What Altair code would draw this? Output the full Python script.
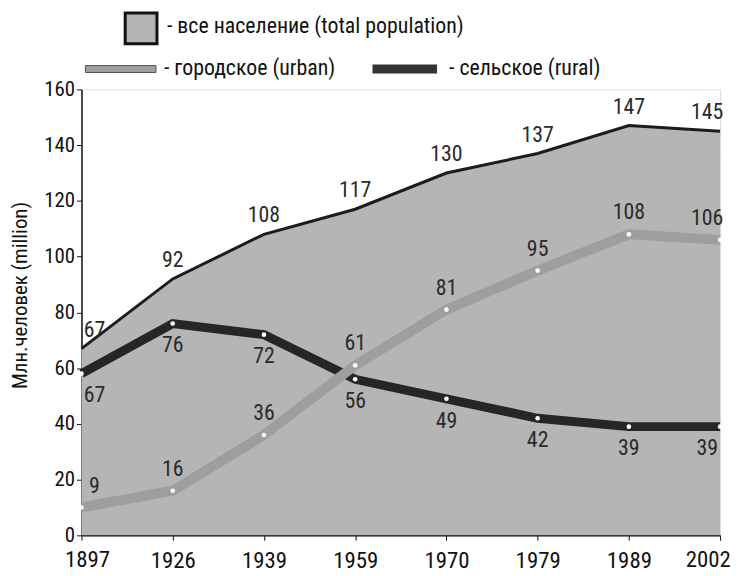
import altair as alt
import pandas as pd

years = ["1897", "1926", "1939", "1959", "1970", "1979", "1989", "2002"]
total = [67, 92, 108, 117, 130, 137, 147, 145]
urban = [10, 16, 36, 61, 81, 95, 108, 106]
urban_labels = ["9", "16", "36", "61", "81", "95", "108", "106"]
rural = [58, 76, 72, 56, 49, 42, 39, 39]
rural_labels = ["67", "76", "72", "56", "49", "42", "39", "39"]
total_labels = [str(v) for v in total]

FONT = "Roboto Condensed"

rows = []
for i, y in enumerate(years):
    pos = "first" if i == 0 else ("last" if i == len(years) - 1 else "mid")
    rows.append(dict(year=y, series="total", value=total[i], label=total_labels[i], pos=pos))
    rows.append(dict(year=y, series="urban", value=urban[i], label=urban_labels[i], pos=pos))
    rows.append(dict(year=y, series="rural", value=rural[i], label=rural_labels[i], pos=pos))
df = pd.DataFrame(rows)

first_year, last_year = years[0], years[-1]

xenc = alt.X("year:O", sort=years, scale=alt.Scale(type="point", padding=0),
             axis=alt.Axis(title=None, labelAngle=0, labelFont=FONT, labelFontSize=23,
                           labelColor="#111", domainColor="#111", domainWidth=1.5,
                           tickColor="#111", tickSize=5, labelPadding=9, grid=False,
                           labelExpr=f"datum.value == '{first_year}' || datum.value == '{last_year}' ? '' : datum.label"))
yenc = alt.Y("value:Q", scale=alt.Scale(domain=[0, 160], nice=False),
             axis=alt.Axis(title="Млн.человек (million)", values=list(range(0, 161, 20)),
                           labelFont=FONT, labelFontSize=21, labelColor="#111",
                           titleFont=FONT, titleFontSize=21, titleFontWeight="normal",
                           titleColor="#111", titlePadding=13, titleY=207,
                           domainColor="#111", domainWidth=1.5, tickColor="#111",
                           tickSize=5, labelPadding=2, grid=False))

base = alt.Chart(df)

area = base.transform_filter(alt.datum.series == "total").mark_area(
    color="#b5b5b5", opacity=1).encode(x=xenc, y=yenc)
tline = base.transform_filter(alt.datum.series == "total").mark_line(
    color="#1c1c1c", strokeWidth=3).encode(x="year:O", y="value:Q")
rline = base.transform_filter(alt.datum.series == "rural").mark_line(
    color="#262626", strokeWidth=9).encode(x="year:O", y="value:Q")
uline = base.transform_filter(alt.datum.series == "urban").mark_line(
    color="#9e9e9e", strokeWidth=10).encode(x="year:O", y="value:Q")
pts = base.transform_filter(alt.datum.series != "total").mark_circle(
    color="white", opacity=1, size=22).encode(x="year:O", y="value:Q")


def labels(series, dy):
    layers = []
    for pos, dx in (("first", 13), ("mid", 0), ("last", -13)):
        layers.append(
            base.transform_filter((alt.datum.series == series) & (alt.datum.pos == pos))
            .mark_text(font=FONT, fontSize=22, color="#2a2a2a", dy=dy, dx=dx, align="center",
                       baseline="middle")
            .encode(x="year:O", y="value:Q", text="label:N"))
    return layers


lab_layers = labels("total", -19) + labels("urban", -22) + labels("rural", 22)

# first / last year tick labels, nudged inward as in the original
edge_labels = []
for pos, dx in (("first", 6), ("last", -12)):
    edge_labels.append(
        base.transform_filter((alt.datum.series == "total") & (alt.datum.pos == pos))
        .mark_text(font=FONT, fontSize=23, color="#111", dx=dx, dy=14, align="center",
                   baseline="top")
        .encode(x="year:O", y=alt.value(449), text="year:N"))

# legend
leg_df = pd.DataFrame({"k": [0]})
lb = alt.Chart(leg_df)
leg_total_box = lb.mark_rect(fill="#b5b5b5", stroke="#111", strokeWidth=3).encode(
    x=alt.value(44), x2=alt.value(76), y=alt.value(-77), y2=alt.value(-46))
leg_total_txt = lb.mark_text(font=FONT, fontSize=22, align="left", baseline="middle",
                             color="#111").encode(
    x=alt.value(86), y=alt.value(-64), text=alt.value("- все население (total population)"))
leg_urban_box = lb.mark_rect(fill="#9e9e9e", stroke="#555", strokeWidth=1).encode(
    x=alt.value(4), x2=alt.value(75), y=alt.value(-24), y2=alt.value(-17))
leg_urban_txt = lb.mark_text(font=FONT, fontSize=22, align="left", baseline="middle",
                             color="#111").encode(
    x=alt.value(83), y=alt.value(-21), text=alt.value("- городское (urban)"))
leg_rural_box = lb.mark_rect(fill="#333333").encode(
    x=alt.value(293), x2=alt.value(358), y=alt.value(-25), y2=alt.value(-16))
leg_rural_txt = lb.mark_text(font=FONT, fontSize=22, align="left", baseline="middle",
                             color="#111").encode(
    x=alt.value(370), y=alt.value(-21), text=alt.value("- сельское (rural)"))

chart = alt.layer(
    area, tline, rline, uline, pts, *lab_layers, *edge_labels,
    leg_total_box, leg_total_txt, leg_urban_box, leg_urban_txt, leg_rural_box, leg_rural_txt,
).properties(
    width=643, height=449,
    autosize=alt.AutoSizeParams(type="none"),
    padding={"left": 74, "top": 80, "right": 16, "bottom": 40},
).configure_view(stroke=None).configure(background="white")

chart.save("out.html", embed_options={"renderer": "svg", "actions": False})
